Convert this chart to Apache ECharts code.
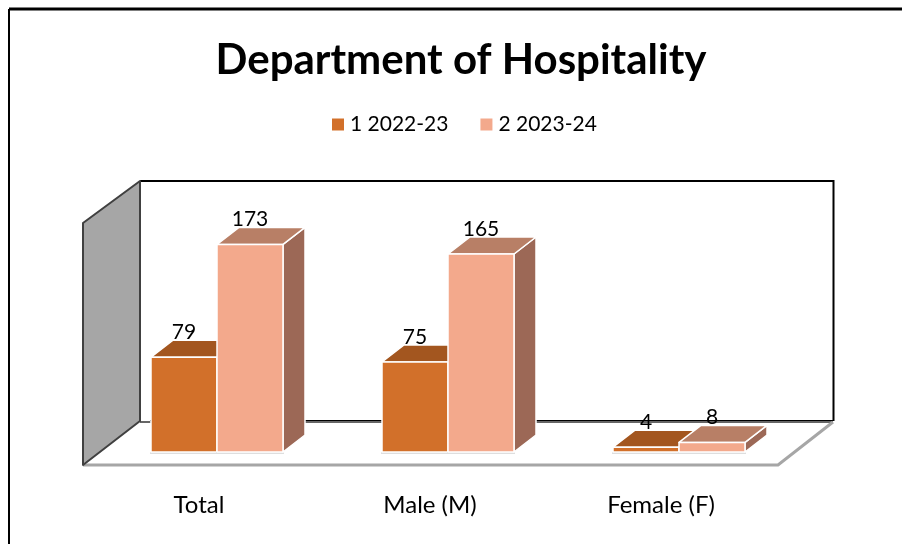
<!DOCTYPE html>
<html>
<head>
<meta charset="utf-8" />
<style>
  html, body { margin: 0; padding: 0; background: #fff; }
  #chart { width: 902px; height: 544px; }
</style>
</head>
<body>
<div id="chart"></div>
<script src="https://cdn.jsdelivr.net/npm/echarts@6/dist/echarts.min.js"></script>
<script>
const categories = ['Total', 'Male (M)', 'Female (F)']
const seriesNames = ['1 2022-23', '2 2023-24']
const values2022 = [79, 75, 4]
const values2023 = [173, 165, 8]

const fontName = 'Lato, "Open Sans", sans-serif'
// how far the bar's back face sits from its front face
const depthX = 22
const depthY = -17
const barWidth = 66

const palette = [
  { front: '#D2702A', top: '#A3561F', side: '#8A4A1C' },
  { front: '#F3A98C', top: '#B87F66', side: '#9C6856' }
]

// one 3d bar: front, top and side faces, all placed through the axes
const bar3d = (seriesIndex) => (params, api) => {
  const colors = palette[seriesIndex]
  const base = api.coord([api.value(0), 0])
  const head = api.coord([api.value(0), api.value(1)])
  const x0 = base[0] - barWidth + seriesIndex * barWidth
  const x1 = x0 + barWidth
  const y0 = base[1]
  const y1 = head[1]
  const line = { stroke: '#fff', lineWidth: 1.5, lineJoin: 'round' }
  const face = (points, fill) => ({
    type: 'polygon',
    shape: { points },
    style: { fill, ...line }
  })
  return {
    type: 'group',
    children: [
      // small soft shadow under the bar
      {
        type: 'rect',
        shape: { x: x0 - 1, y: y0, width: barWidth + 2, height: 2 },
        style: { fill: '#dedede' }
      },
      face([[x1, y0], [x1 + depthX, y0 + depthY], [x1 + depthX, y1 + depthY], [x1, y1]], colors.side),
      face([[x0, y1], [x1, y1], [x1 + depthX, y1 + depthY], [x0 + depthX, y1 + depthY]], colors.top),
      face([[x0, y0], [x1, y0], [x1, y1], [x0, y1]], colors.front),
      {
        type: 'text',
        z2: 10,
        style: {
          text: String(api.value(1)),
          x: (x0 + x1) / 2,
          y: y1 - 25,
          align: 'center',
          verticalAlign: 'middle',
          fill: '#000',
          font: '21px ' + fontName
        }
      }
    ]
  }
}

const toRows = (values) => values.map((v, i) => [i, v])

const chart = echarts.init(document.getElementById('chart'))
chart.setOption({
  animation: false,
  backgroundColor: '#fff',
  title: {
    text: 'Department of Hospitality',
    left: 456,
    top: 34,
    textAlign: 'center',
    textStyle: { color: '#000', fontFamily: fontName, fontSize: 42, fontWeight: 'bold' }
  },
  legend: {
    top: 109,
    left: 327,
    itemWidth: 12,
    itemHeight: 12,
    itemGap: 32,
    icon: 'rect',
    data: seriesNames,
    textStyle: { color: '#000', fontFamily: fontName, fontSize: 21, padding: [0, 0, 0, 1] }
  },
  grid: { left: 101.5, width: 693, top: 212, height: 240 },
  xAxis: {
    type: 'category',
    data: categories,
    axisLine: { show: false },
    axisTick: { show: false },
    axisLabel: {
      color: '#000',
      fontFamily: fontName,
      fontSize: 24,
      margin: 41,
      padding: [0, 36, 0, 0]
    }
  },
  yAxis: {
    type: 'value',
    min: 0,
    max: 200,
    show: false
  },
  // frame, walls and floor of the 3d box
  graphic: [
    { type: 'line', shape: { x1: 9, y1: 9, x2: 902, y2: 9 }, style: { stroke: '#000', lineWidth: 3 } },
    { type: 'line', shape: { x1: 9, y1: 9, x2: 9, y2: 544 }, style: { stroke: '#000', lineWidth: 2 } },
    { type: 'line', shape: { x1: 140, y1: 422, x2: 833, y2: 422 }, style: { stroke: '#666', lineWidth: 2 } },
    { type: 'line', shape: { x1: 150, y1: 420.5, x2: 833, y2: 420.5 }, style: { stroke: '#000', lineWidth: 1 } },
    { type: 'polyline', shape: { points: [[83, 465], [778, 465], [833, 422]] }, style: { stroke: '#a6a6a6', lineWidth: 3, fill: null } },
    { type: 'polyline', shape: { points: [[140, 181], [833.5, 181], [833.5, 421]] }, style: { stroke: '#000', lineWidth: 2, fill: null } },
    {
      type: 'polygon',
      shape: { points: [[83, 223], [140, 181], [140, 421], [83, 465]] },
      style: { fill: '#a6a6a6', stroke: '#404040', lineWidth: 2, lineJoin: 'round' }
    }
  ],
  series: [
    {
      name: seriesNames[0],
      type: 'custom',
      z: 3,
      itemStyle: { color: palette[0].front },
      renderItem: bar3d(0),
      encode: { x: 0, y: 1 },
      data: toRows(values2022)
    },
    {
      name: seriesNames[1],
      type: 'custom',
      z: 4,
      itemStyle: { color: palette[1].front },
      renderItem: bar3d(1),
      encode: { x: 0, y: 1 },
      data: toRows(values2023)
    }
  ]
})
</script>
</body>
</html>
